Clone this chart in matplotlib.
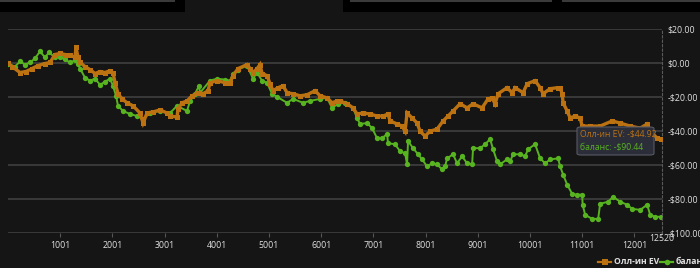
import matplotlib
matplotlib.use("Agg")
import matplotlib.pyplot as plt
from matplotlib.patches import Rectangle, FancyBboxPatch
from matplotlib.lines import Line2D

BG = "#151515"
ORANGE = "#bd7212"
GREEN = "#58b320"
GRID = "#3c3c3c"
TXT = "#e0e0e0"

plt.rcParams['font.family'] = ['Open Sans', 'DejaVu Sans']

# hand number / dollar value
ev_hands = [1, 78, 231, 346, 461, 576, 710, 806, 902, 997, 1093, 1189, 1285, 1304, 1342,
            1381, 1476, 1572, 1668, 1764, 1860, 1955, 2013, 2051, 2109, 2185, 2281, 2396,
            2530, 2588, 2664, 2779, 2913, 3047, 3105, 3239, 3258, 3335, 3431, 3527, 3642,
            3737, 3833, 3871, 4005, 4159, 4255, 4312, 4408, 4580, 4638, 4695, 4772, 4829,
            4868, 4963, 5021, 5078, 5174, 5270, 5347, 5462, 5596, 5730, 5883, 5979, 6113,
            6209, 6305, 6362, 6497, 6612, 6688, 6803, 6937, 7071, 7186, 7282, 7320, 7455,
            7550, 7608, 7646, 7742, 7838, 7895, 7991, 8087, 8221, 8336, 8432, 8528, 8662,
            8796, 8911, 9083, 9198, 9275, 9332, 9390, 9562, 9658, 9716, 9869, 9946, 10099,
            10195, 10253, 10387, 10540, 10578, 10617, 10636, 10712, 10770, 10866, 10962,
            11000, 11154, 11345, 11575, 11728, 11920, 12112, 12246, 12303, 12437, 12520]
ev_values = [0.0, -2.1, -5.6, -5.0, -3.3, -1.5, -0.3, 0.3, 5.0, 5.6, 5.0, 4.5, 3.3, 9.2, 3.3,
             0.3, -2.1, -3.9, -6.2, -5.0, -5.6, -4.5, -5.6, -11.6, -18.1, -21.1, -23.4, -25.2,
             -29.4, -35.3, -29.4, -28.8, -27.6, -29.4, -31.2, -31.8, -27.0, -23.4, -22.3,
             -19.3, -17.5, -18.1, -16.3, -11.6, -10.4, -11.6, -11.6, -7.4, -3.3, -0.9, -3.3,
             -5.6, -3.3, -0.9, -6.2, -7.4, -12.2, -16.3, -14.5, -13.4, -17.5, -18.1, -19.3,
             -18.7, -16.3, -19.3, -20.5, -23.4, -22.3, -22.3, -24.0, -26.4, -30.0, -29.4,
             -30.0, -31.2, -31.2, -30.0, -34.1, -35.9, -37.1, -40.1, -29.4, -32.3, -35.3,
             -40.1, -43.0, -40.1, -38.9, -34.1, -31.2, -28.2, -24.0, -26.4, -24.0, -26.4,
             -21.1, -20.5, -24.0, -18.1, -14.5, -17.5, -14.5, -17.5, -12.2, -10.4, -14.5,
             -18.1, -15.1, -14.5, -14.5, -18.1, -23.4, -28.2, -32.3, -31.2, -32.3, -37.1,
             -37.1, -37.1, -34.1, -35.3, -37.1, -38.3, -35.9, -40.1, -44.2, -44.92]

bal_hands = [1, 135, 231, 327, 423, 518, 614, 710, 787, 902, 997, 1093, 1189, 1285, 1342,
             1381, 1476, 1572, 1668, 1764, 1860, 1955, 2013, 2070, 2109, 2204, 2338, 2473,
             2588, 2722, 2913, 3105, 3239, 3431, 3488, 3584, 3661, 3680, 3871, 4005, 4159,
             4255, 4312, 4408, 4580, 4695, 4772, 4868, 4963, 5059, 5155, 5347, 5462, 5653,
             5787, 5979, 6113, 6209, 6324, 6458, 6612, 6688, 6746, 6880, 6976, 7071, 7167,
             7263, 7282, 7416, 7512, 7608, 7646, 7665, 7761, 7857, 7934, 8029, 8125, 8221,
             8317, 8374, 8413, 8528, 8604, 8700, 8796, 8892, 8911, 9045, 9141, 9237, 9294,
             9371, 9428, 9562, 9620, 9677, 9811, 9907, 9965, 10099, 10195, 10291, 10387,
             10540, 10578, 10636, 10712, 10808, 10904, 11000, 11010, 11058, 11192, 11307,
             11345, 11499, 11594, 11728, 11862, 11958, 12112, 12246, 12303, 12399, 12520]
bal_values = [-0.3, -2.1, 0.9, -0.9, 0.3, 2.7, 6.8, 3.3, 6.2, 3.3, 3.3, 2.1, 0.3, 1.5, -0.3,
              -3.3, -8.6, -10.4, -9.2, -12.8, -11.0, -9.2, -13.4, -19.3, -25.2, -28.2, -30.0,
              -31.2, -32.9, -29.4, -28.2, -29.4, -25.2, -28.2, -22.3, -18.1, -13.4, -17.5,
              -10.4, -9.2, -9.8, -10.4, -6.2, -3.9, -1.5, -9.2, -5.6, -10.4, -11.6, -18.1,
              -19.9, -23.4, -21.1, -23.4, -22.3, -21.1, -20.5, -26.4, -24.0, -23.4, -26.4,
              -32.3, -35.9, -35.3, -38.3, -44.2, -44.2, -41.8, -47.2, -47.8, -51.9, -53.1,
              -59.6, -46.0, -50.1, -53.7, -56.7, -60.8, -59.0, -59.6, -62.6, -60.8, -56.1,
              -53.7, -59.0, -54.9, -59.0, -59.6, -50.1, -50.1, -47.8, -44.8, -50.7, -57.9,
              -59.6, -56.7, -57.9, -53.7, -53.7, -54.9, -50.7, -47.8, -56.1, -59.0, -56.7,
              -56.1, -60.8, -65.6, -71.5, -76.9, -77.5, -77.5, -83.4, -89.3, -91.7, -91.7,
              -82.8, -81.6, -78.7, -81.6, -83.4, -85.8, -86.4, -83.4, -89.3, -90.5, -90.44]

x_ticks = [1001, 2001, 3001, 4001, 5001, 6001, 7001, 8001, 9001, 10001, 11001, 12001, 12520]
y_ticks = [20, 0, -20, -40, -60, -80, -100]
series_names = ["Олл-ин EV", "баланс"]

fig = plt.figure(figsize=(7.0, 2.68), dpi=100, facecolor=BG)
ax = fig.add_axes([8 / 700, 35 / 268, 654 / 700, 204 / 268], facecolor=BG)

ax.plot(ev_hands, ev_values, color=ORANGE, lw=2.4, marker="s", ms=3.6, mew=0, zorder=3,
        solid_joinstyle="miter")
ax.plot(bal_hands, bal_values, color=GREEN, lw=1.4, marker="o", ms=3.8, mew=0, zorder=2)

ax.set_xlim(1, 12530)
ax.set_ylim(-100, 20)
ax.set_yticks(y_ticks)
ax.yaxis.tick_right()
ax.set_yticklabels([("-$%.2f" % -v) if v < 0 else ("$%.2f" % v) for v in y_ticks])
ax.set_xticks(x_ticks)
ax.set_xticklabels([str(t) for t in x_ticks])
ax.grid(axis="y", color=GRID, lw=1.3)
ax.tick_params(axis="y", length=0, pad=4, labelsize=6.3, labelcolor=TXT)
ax.tick_params(axis="x", length=3, color="#555555", pad=3, labelsize=6.3, labelcolor=TXT)
for lbl in ax.get_xticklabels():
    if lbl.get_text() == "12520":
        lbl.set_y(0.035)
for s in ["top", "left", "bottom"]:
    ax.spines[s].set_visible(False)
ax.spines["right"].set_color("#5a5a5a")
ax.spines["right"].set_linestyle((0, (2, 2)))
ax.spines["right"].set_linewidth(0.8)

# tooltip
tip = FancyBboxPatch((577 / 700, 1 - 155 / 268), 77 / 700, 28 / 268,
                     boxstyle="round,pad=0,rounding_size=0.006", transform=fig.transFigure,
                     facecolor="#2b2e38", edgecolor="#575a64", lw=0.8, zorder=10)
fig.patches.append(tip)
fig.text(580 / 700, 1 - 134 / 268, "%s: -$44.92" % series_names[0], color=ORANGE,
         fontsize=6.2, va="center", ha="left", zorder=11)
fig.text(580 / 700, 1 - 147 / 268, "%s: -$90.44" % series_names[1], color=GREEN,
         fontsize=6.2, va="center", ha="left", zorder=11)

# top bar
for x0, x1 in [(0, 185), (343, 700)]:
    fig.patches.append(Rectangle((x0 / 700, 1 - 12 / 268), (x1 - x0) / 700, 12 / 268,
                                 transform=fig.transFigure, facecolor="#000000", lw=0))
for x0, x1 in [(0, 175), (350, 552), (562, 700)]:
    fig.patches.append(Rectangle((x0 / 700, 1 - 2 / 268), (x1 - x0) / 700, 2 / 268,
                                 transform=fig.transFigure, facecolor="#3a3a3a", lw=0))

# legend (cut off at the right edge)
ly = 1 - 262 / 268
for (x0, col, mk, name) in [(598, ORANGE, "s", series_names[0]), (660, GREEN, "o", series_names[1])]:
    fig.lines.append(Line2D([x0 / 700, (x0 + 13) / 700], [ly, ly], transform=fig.transFigure,
                            color=col, lw=1.6))
    fig.lines.append(Line2D([(x0 + 6.5) / 700], [ly], transform=fig.transFigure, color=col,
                            marker=mk, ms=4, mew=0))
    fig.text((x0 + 16) / 700, ly, name, color=TXT, fontsize=6.2, fontweight="bold",
             va="center", ha="left")

fig.text(320 / 700, -0.012, "10.00       10.00", color="#777777", fontsize=6, va="center")

fig.savefig("out.png", dpi=100, facecolor=BG)
